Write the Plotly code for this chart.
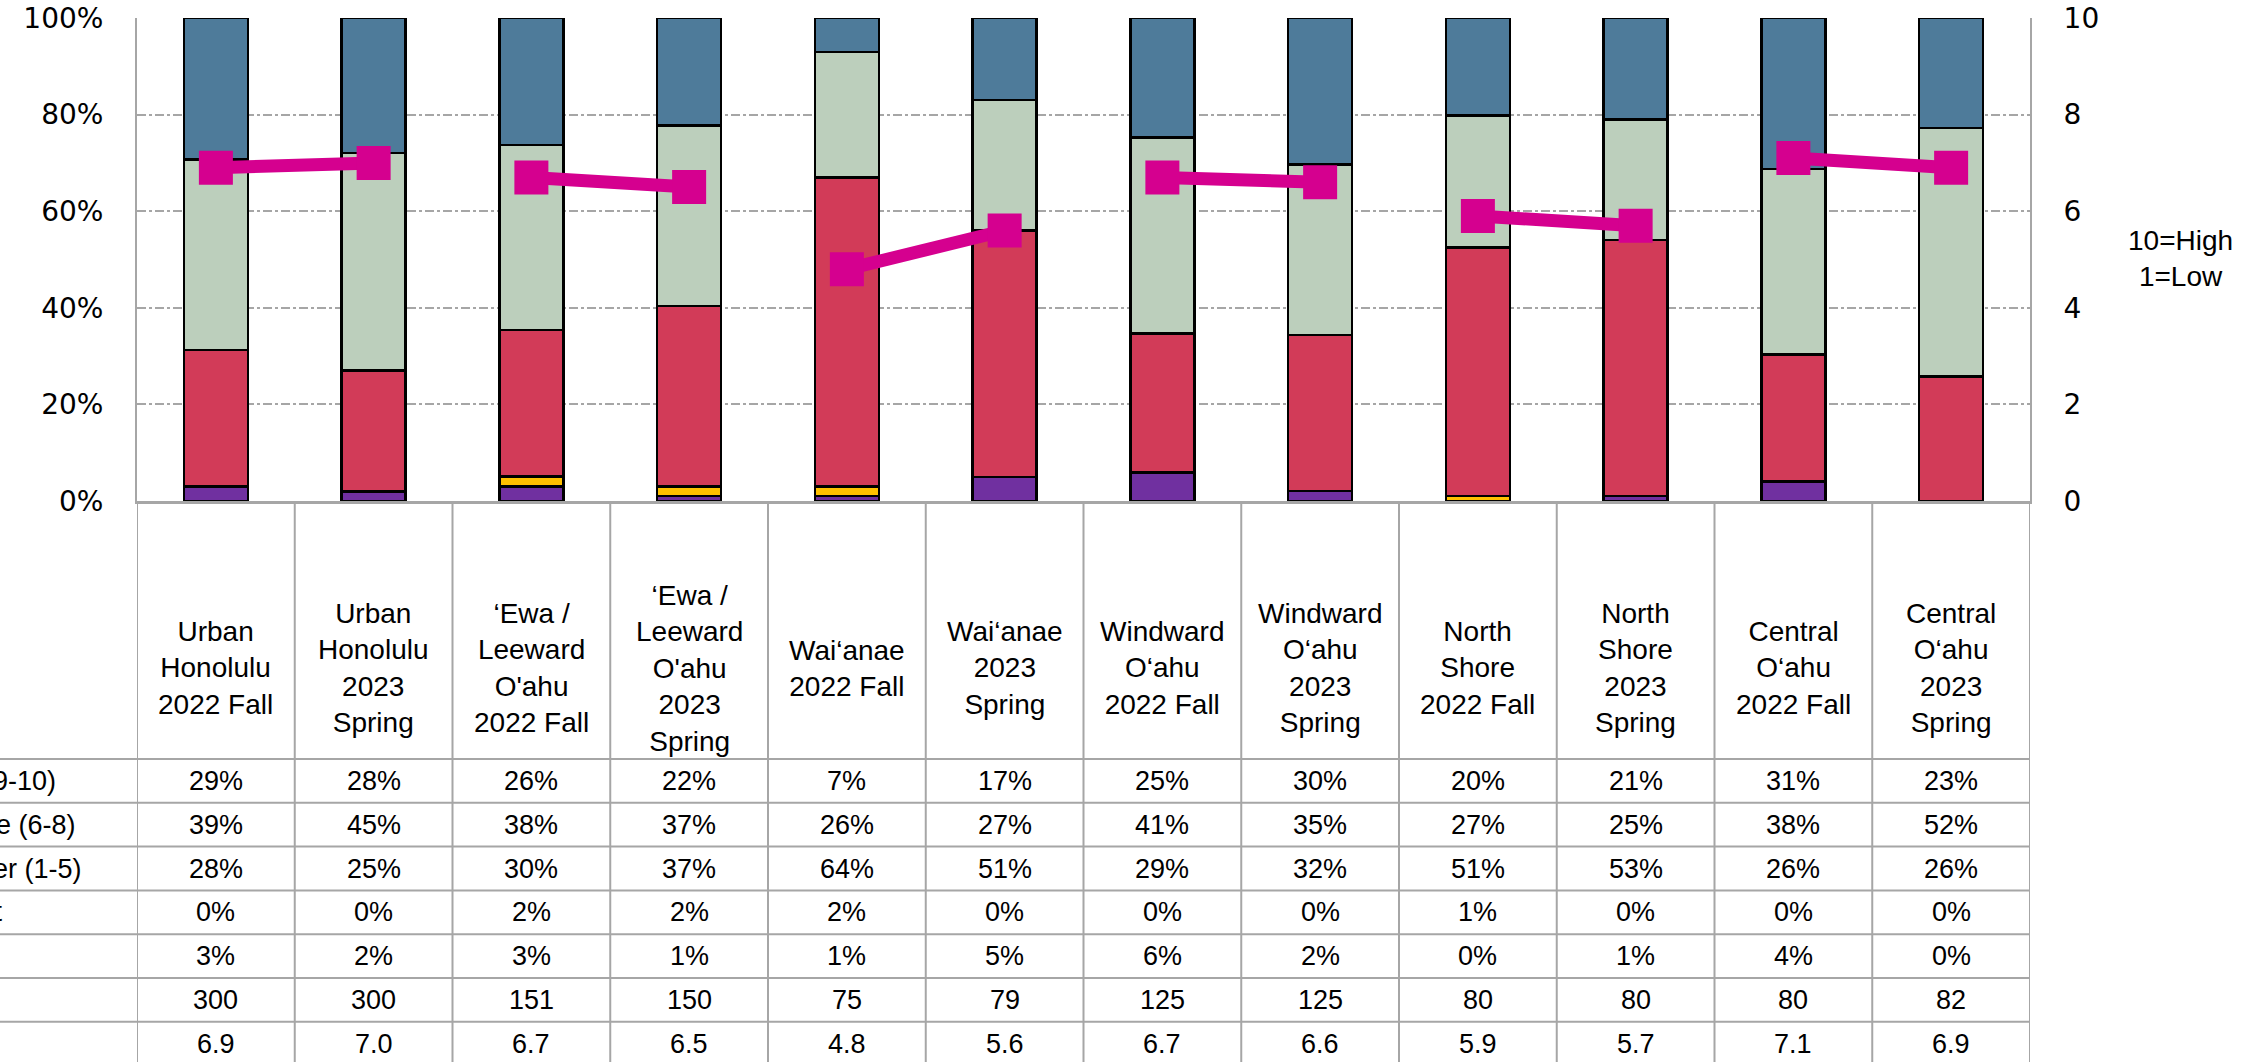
import plotly.graph_objects as go

# ---------------- data ----------------
categories = [
    "Urban<br>Honolulu<br>2022 Fall",
    "Urban<br>Honolulu<br>2023<br>Spring",
    "‘Ewa /<br>Leeward<br>O'ahu<br>2022 Fall",
    "‘Ewa /<br>Leeward<br>O'ahu<br>2023<br>Spring",
    "Wai‘anae<br>2022 Fall",
    "Wai‘anae<br>2023<br>Spring",
    "Windward<br>O‘ahu<br>2022 Fall",
    "Windward<br>O‘ahu<br>2023<br>Spring",
    "North<br>Shore<br>2022 Fall",
    "North<br>Shore<br>2023<br>Spring",
    "Central<br>O‘ahu<br>2022 Fall",
    "Central<br>O‘ahu<br>2023<br>Spring",
]
top_box = [29, 28, 26, 22, 7, 17, 25, 30, 20, 21, 31, 23]
mid_range = [39, 45, 38, 37, 26, 27, 41, 35, 27, 25, 38, 52]
bottom_tier = [28, 25, 30, 37, 64, 51, 29, 32, 51, 53, 26, 26]
no_impact = [0, 0, 2, 2, 2, 0, 0, 0, 1, 0, 0, 0]
dont_know = [3, 2, 3, 1, 1, 5, 6, 2, 0, 1, 4, 0]
n_counts = [300, 300, 151, 150, 75, 79, 125, 125, 80, 80, 80, 82]
means = [6.9, 7.0, 6.7, 6.5, 4.8, 5.6, 6.7, 6.6, 5.9, 5.7, 7.1, 6.9]
row_labels = ["Top Box (9-10)", "Mid-Range (6-8)", "Bottom Tier (1-5)",
              "No Impact", "DK", "n", "Avg."]
y_ticks = [0, 20, 40, 60, 80, 100]
y_tick_text = ["0%", "20%", "40%", "60%", "80%", "100%"]
y2_ticks = [0, 2, 4, 6, 8, 10]

# ---------------- layout geometry (page pixels) ----------------
W, H = 2256, 1062
PL, PR, PT, PB = 137, 2030, 18, 501
HEADER_BOTTOM = 759
ROW_H = 43.8
LABEL_START = -121   # left edge of the (cut-off) row-label text
LABEL_BOX_RIGHT = 135
FONT = "Liberation Sans"
TICKFONT = "DejaVu Sans"
GRID = "#A6A6A6"
NCAT = len(categories)


def py(p):  # page pixel y -> paper y
    return (PB - p) / (PB - PT)


def px(p):  # page pixel x -> paper x
    return (p - PL) / (PR - PL)


x = list(range(NCAT))

fig = go.Figure()
series = [
    ("DK", dont_know, "#7030A0"),
    ("No Impact", no_impact, "#FFC000"),
    ("Bottom Tier (1-5)", bottom_tier, "#D23B58"),
    ("Mid-Range (6-8)", mid_range, "#BCCFBC"),
    ("Top Box (9-10)", top_box, "#4E7B9A"),
]
for name, vals, col in series:
    fig.add_trace(go.Bar(
        x=x, y=vals, name=name,
        marker=dict(color=col, line=dict(color="black", width=2.5)),
        showlegend=False,
    ))

# mean line, drawn per region pair
for i in range(0, len(means), 2):
    fig.add_trace(go.Scatter(
        x=x[i:i + 2], y=means[i:i + 2], yaxis="y2", mode="lines+markers",
        line=dict(color="#D5008F", width=13),
        marker=dict(symbol="square", size=34, color="#D5008F"),
        showlegend=False, cliponaxis=False,
    ))

row_centres = [HEADER_BOTTOM + (r + 0.5) * ROW_H for r in range(len(row_labels))]

shapes = []
for r in range(len(row_labels) + 1):
    yy = HEADER_BOTTOM + r * ROW_H
    shapes.append(dict(type="line", xref="paper", yref="paper",
                       x0=px(0), x1=px(PR), y0=py(yy), y1=py(yy),
                       line=dict(color=GRID, width=2)))
for i in range(NCAT + 1):
    shapes.append(dict(type="line", xref="x", yref="paper",
                       x0=i - 0.5, x1=i - 0.5, y0=0, y1=py(H + 10),
                       line=dict(color=GRID, width=2)))

annotations = []
for i, c in enumerate(categories):
    annotations.append(dict(x=i, y=py(668), xref="x", yref="paper",
                            text=c, showarrow=False, yanchor="middle",
                            font=dict(size=28, color="black", family=FONT)))
rows = [
    [f"{v}%" for v in top_box],
    [f"{v}%" for v in mid_range],
    [f"{v}%" for v in bottom_tier],
    [f"{v}%" for v in no_impact],
    [f"{v}%" for v in dont_know],
    [str(v) for v in n_counts],
    [f"{v:.1f}" for v in means],
]
for r, vals in enumerate(rows):
    yc = row_centres[r]
    # row label: fixed-width, left-aligned box whose left part runs off the page
    annotations.append(dict(x=px(LABEL_BOX_RIGHT), y=py(yc), xref="paper",
                            yref="paper", text=row_labels[r], showarrow=False,
                            xanchor="right", yanchor="middle", align="left",
                            width=LABEL_BOX_RIGHT - LABEL_START,
                            borderpad=0, borderwidth=0,
                            font=dict(size=27, color="black", family=FONT)))
    for i, t in enumerate(vals):
        annotations.append(dict(x=i, y=py(yc), xref="x", yref="paper",
                                text=t, showarrow=False, yanchor="middle",
                                font=dict(size=27, color="black", family=FONT)))

annotations.append(dict(x=px(2180), y=py(258), xref="paper", yref="paper",
                        text="10=High<br>1=Low", showarrow=False,
                        xanchor="center", yanchor="middle",
                        font=dict(size=28, color="black", family=FONT)))

fig.update_layout(
    width=W, height=H,
    margin=dict(l=PL, r=W - PR, t=PT, b=H - PB, autoexpand=False),
    paper_bgcolor="white", plot_bgcolor="white",
    barmode="stack", barnorm="percent", bargap=0.594,
    font=dict(family=FONT, color="black"),
    xaxis=dict(type="linear", range=[-0.5, NCAT - 0.5], autorange=False,
               showticklabels=False, showgrid=False, zeroline=False,
               showline=True, linecolor=GRID, linewidth=3, ticks=""),
    yaxis=dict(range=[0, 100], autorange=False, tickmode="array",
               tickvals=y_ticks,
               ticktext=y_tick_text, ticklabeloverflow="allow",
               showgrid=True, gridcolor=GRID, gridwidth=2, griddash="dashdot",
               zeroline=False, showline=True, linecolor=GRID, linewidth=2,
               tickfont=dict(size=28, color="black", family=TICKFONT),
               ticklabelstandoff=26),
    yaxis2=dict(range=[0, 10], autorange=False, tickmode="array",
                tickvals=y2_ticks,
                overlaying="y", side="right", ticklabeloverflow="allow",
                showgrid=False, zeroline=False, showline=True, linecolor=GRID,
                linewidth=2,
                tickfont=dict(size=28, color="black", family=TICKFONT),
                ticklabelstandoff=26),
    shapes=shapes,
    annotations=annotations,
)

fig.write_html(
    "out.html",
    config={"displayModeBar": False},
    post_script="document.body.style.margin='0';document.body.style.overflow='hidden';",
)
